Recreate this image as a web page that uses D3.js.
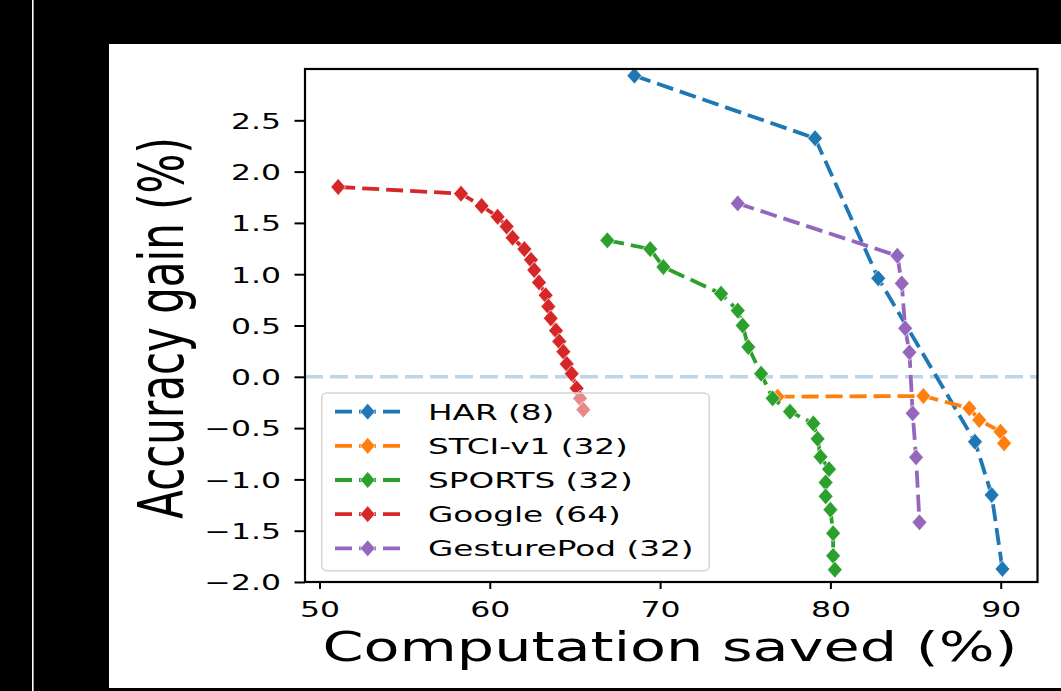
<!DOCTYPE html>
<html>
<head>
<meta charset="utf-8">
<script src="https://cdn.jsdelivr.net/npm/d3@7"></script>
<style>
  html, body { margin: 0; padding: 0; background: #000; }
  text { font-family: "DejaVu Sans", sans-serif; fill: #000; }
</style>
</head>
<body>
<div id="chart"></div>
<script>
const width = 1061;
const height = 691;

// series: [computation saved %, accuracy gain %]
const seriesNames = ['HAR (8)', 'STCI-v1 (32)', 'SPORTS (32)', 'Google (64)', 'GesturePod (32)'];
const seriesColors = ['#1f77b4', '#ff7f0e', '#2ca02c', '#d62728', '#9467bd'];

const harData = [
  [68.49, 2.935], [79.1, 2.325], [82.81, 0.96], [88.49, -0.633], [89.47, -1.152], [90.1, -1.873]
];
const stciData = [
  [76.9, -0.194], [85.46, -0.187], [88.16, -0.307], [88.74, -0.421], [89.99, -0.535], [90.2, -0.648]
];
const sportsData = [
  [66.9, 1.33], [69.42, 1.245], [70.19, 1.07], [73.58, 0.81], [74.56, 0.645], [74.85, 0.5],
  [75.18, 0.29], [75.93, 0.03], [76.61, -0.21], [77.63, -0.34], [79.0, -0.455], [79.25, -0.605],
  [79.42, -0.78], [79.92, -0.9], [79.72, -1.03], [79.72, -1.165], [80.0, -1.295], [80.16, -1.525],
  [80.16, -1.745], [80.26, -1.88]
];
const googleData = [
  [51.1, 1.85], [58.31, 1.785], [59.52, 1.665], [60.46, 1.56], [60.99, 1.465], [61.34, 1.355],
  [62.03, 1.245], [62.42, 1.14], [62.61, 1.04], [62.89, 0.92], [63.28, 0.795], [63.44, 0.685],
  [63.58, 0.57], [63.89, 0.45], [64.08, 0.345], [64.32, 0.245], [64.52, 0.125], [64.81, 0.03],
  [65.1, -0.112], [65.3, -0.21], [65.49, -0.32]
];
const gestureData = [
  [74.56, 1.69], [83.93, 1.18], [84.19, 0.91], [84.39, 0.473], [84.64, 0.239], [84.83, -0.356],
  [85.03, -0.785], [85.23, -1.418]
];
const allSeries = [harData, stciData, sportsData, googleData, gestureData];

const xTicks = [50, 60, 70, 80, 90];
const yTicks = [-2.0, -1.5, -1.0, -0.5, 0.0, 0.5, 1.0, 1.5, 2.0, 2.5];

const xLabel = 'Computation saved (%)';
const yLabel = 'Accuracy gain (%)';

// the picture is stretched sideways, so text gets the same squash
const stretch = 1.5;

const plotLeft = 305;
const plotRight = 1037.5;
const plotTop = 69;
const plotBottom = 582;

const x = d3.scaleLinear().domain([49.15, 92.16]).range([plotLeft, plotRight]);
const y = d3.scaleLinear().domain([-2, 3]).range([plotBottom, plotTop]);

const svg = d3.select('#chart').append('svg')
  .attr('width', width)
  .attr('height', height);

svg.append('rect').attr('width', width).attr('height', height).attr('fill', '#000');
svg.append('rect').attr('x', 32).attr('y', 0).attr('width', 1.6).attr('height', height).attr('fill', '#fff');
svg.append('rect').attr('x', 109).attr('y', 44).attr('width', width - 109).attr('height', 644).attr('fill', '#fff');

svg.append('clipPath').attr('id', 'plot-clip')
  .append('rect')
    .attr('x', plotLeft).attr('y', plotTop)
    .attr('width', plotRight - plotLeft).attr('height', plotBottom - plotTop);

const plot = svg.append('g').attr('clip-path', 'url(#plot-clip)');

// zero line
plot.append('line')
  .attr('x1', plotLeft).attr('x2', plotRight)
  .attr('y1', y(0)).attr('y2', y(0))
  .attr('stroke', '#bcd6e8')
  .attr('stroke-width', 3.4)
  .attr('stroke-dasharray', '18,7');

function diamond (w, h) {
  return `M0,${-h}L${w},0L0,${h}L${-w},0Z`;
}

const line = d3.line().x(d => x(d[0])).y(d => y(d[1]));

allSeries.forEach(function (data, i) {
  const g = plot.append('g').attr('class', 'series');
  g.append('path')
    .datum(data)
    .attr('d', line)
    .attr('fill', 'none')
    .attr('stroke', seriesColors[i])
    .attr('stroke-width', 3.8)
    .attr('stroke-dasharray', '17,7');
  g.selectAll('.marker')
    .data(data)
    .enter()
    .append('path')
      .attr('class', 'marker')
      .attr('transform', d => `translate(${x(d[0])},${y(d[1])})`)
      .attr('d', diamond(7.4, 8.4))
      .attr('fill', seriesColors[i])
      .attr('stroke', '#fff')
      .attr('stroke-width', 0.7);
});

// axes: d3 draws the tick marks, labels are re-placed for the stretch
const xAxis = svg.append('g')
  .attr('transform', `translate(0, ${plotBottom})`)
  .call(d3.axisBottom(x).tickValues(xTicks).tickSize(7).tickSizeOuter(0));
const yAxis = svg.append('g')
  .attr('transform', `translate(${plotLeft}, 0)`)
  .call(d3.axisLeft(y).tickValues(yTicks).tickSize(10.5).tickSizeOuter(0).tickFormat(d3.format('.1f')));

[xAxis, yAxis].forEach(function (ax) {
  ax.select('.domain').remove();
  ax.selectAll('.tick line').attr('stroke', '#000').attr('stroke-width', 2);
  ax.selectAll('.tick text').remove();
});

xAxis.selectAll('.tick').append('text')
  .attr('text-anchor', 'middle')
  .attr('font-size', 21)
  .attr('transform', `translate(0, 35) scale(${stretch}, 1)`)
  .text(d => d);

yAxis.selectAll('.tick').append('text')
  .attr('text-anchor', 'end')
  .attr('font-size', 21)
  .attr('transform', `translate(-24, 7.8) scale(${stretch}, 1)`)
  .text(d => d3.format('.1f')(d));

// frame
svg.append('rect')
  .attr('x', plotLeft).attr('y', plotTop)
  .attr('width', plotRight - plotLeft).attr('height', plotBottom - plotTop)
  .attr('fill', 'none')
  .attr('stroke', '#000')
  .attr('stroke-width', 2.2);

// axis labels
svg.append('text')
  .attr('x', 670)
  .attr('y', 661)
  .attr('text-anchor', 'middle')
  .attr('font-size', 41)
  .attr('textLength', 695)
  .attr('lengthAdjust', 'spacingAndGlyphs')
  .text(xLabel);

svg.append('text')
  .attr('text-anchor', 'middle')
  .attr('font-size', 42)
  .attr('transform', `translate(183, 328) scale(${stretch}, 1) rotate(-90)`)
  .text(yLabel);

// legend
const legendX = 321.7;
const legendY = 393;
const rowStep = 34.15;
const legend = svg.append('g');

legend.append('rect')
  .attr('x', legendX).attr('y', legendY)
  .attr('width', 387.6).attr('height', 177.7)
  .attr('rx', 5)
  .attr('fill', '#fff').attr('fill-opacity', 0.45)
  .attr('stroke', '#d6d6d6').attr('stroke-width', 1.5);

const rows = legend.selectAll('.legend-row')
  .data(seriesNames)
  .enter()
  .append('g')
    .attr('class', 'legend-row')
    .attr('transform', (d, i) => `translate(0, ${legendY + 18.7 + i * rowStep})`);

rows.append('line')
  .attr('x1', 335).attr('x2', 400)
  .attr('stroke', (d, i) => seriesColors[i])
  .attr('stroke-width', 3.8)
  .attr('stroke-dasharray', '17,7');

rows.append('path')
  .attr('transform', 'translate(367.7, 0)')
  .attr('d', diamond(7.4, 8.4))
  .attr('fill', (d, i) => seriesColors[i])
  .attr('stroke', '#fff')
  .attr('stroke-width', 0.7);

rows.append('text')
  .attr('font-size', 21.8)
  .attr('transform', `translate(428, 8) scale(${stretch}, 1)`)
  .text(d => d);
</script>
</body>
</html>
